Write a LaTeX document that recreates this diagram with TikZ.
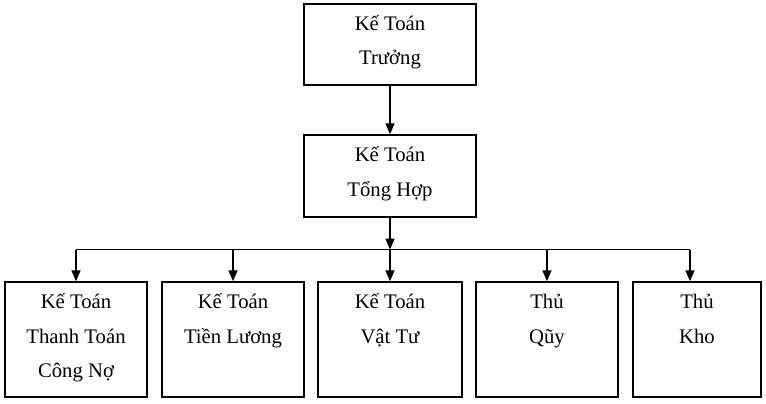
\documentclass[tikz,border=0pt]{standalone}
\usepackage{fontspec}
\setmainfont{Liberation Serif}
\usetikzlibrary{arrows.meta}
\newcommand{\boxtxt}[3]{\parbox[c][#2][t]{#1}{\centering\fontsize{20.7}{34.5}\selectfont\rule{0pt}{26.5pt}#3\par}}
\tikzset{
  orgbox/.style={draw, line width=1.5pt, inner sep=0pt, rectangle},
  conn/.style={line width=1.5pt, -{Triangle[length=11pt,width=9pt]}},
  plain/.style={line width=1.5pt}
}
\begin{document}
\begin{tikzpicture}[x=1pt,y=-1pt]
\useasboundingbox (0,0) rectangle (766,404);
\node[orgbox, minimum width=172pt, minimum height=81pt] (kt) at (390,44.5) {\boxtxt{172pt}{81pt}{Kế Toán\\Trưởng}};
\node[orgbox, minimum width=172pt, minimum height=82pt] (th) at (390,176) {\boxtxt{172pt}{82pt}{Kế Toán\\Tổng Hợp}};
\node[orgbox, minimum width=142pt, minimum height=115pt] (c1) at (76,339.5) {\boxtxt{142pt}{115pt}{Kế Toán\\Thanh Toán\\Công Nợ}};
\node[orgbox, minimum width=142pt, minimum height=115pt] (c2) at (233,339.5) {\boxtxt{142pt}{115pt}{Kế Toán\\Tiền Lương}};
\node[orgbox, minimum width=144pt, minimum height=115pt] (c3) at (390,339.5) {\boxtxt{144pt}{115pt}{Kế Toán\\Vật Tư}};
\node[orgbox, minimum width=142pt, minimum height=115pt] (c4) at (547,339.5) {\boxtxt{142pt}{115pt}{Thủ\\Qũy}};
\node[orgbox, minimum width=128pt, minimum height=115pt] (c5) at (697,339.5) {\boxtxt{128pt}{115pt}{Thủ\\Kho}};
\coordinate (bus) at (390,249.5);
\coordinate (busL) at (76,249.5);
\coordinate (busR) at (690,249.5);
\draw[conn] (kt.south) -- (th.north);
\draw[conn] (th.south) -- (bus);
\draw[plain] (busL) -- (busR);
\draw[conn] (busL) -- (c1.north);
\draw[conn] (c2.north |- bus) -- (c2.north);
\draw[conn] (bus) -- (c3.north);
\draw[conn] (c4.north |- bus) -- (c4.north);
\draw[conn] (busR) -- (busR |- c5.north);
\end{tikzpicture}
\end{document}
